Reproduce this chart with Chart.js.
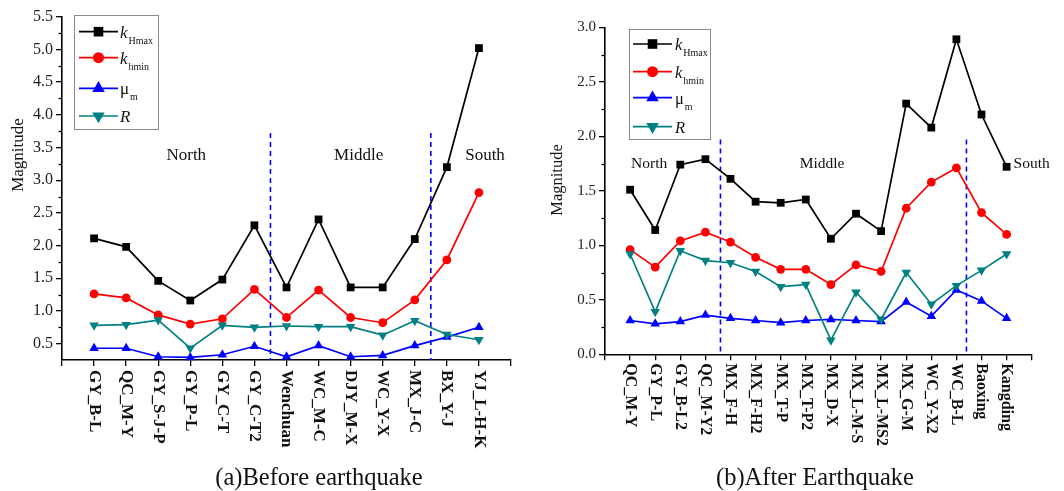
<!DOCTYPE html>
<html>
<head>
<meta charset="utf-8">
<script src="https://cdn.jsdelivr.net/npm/chart.js@4.4.1/dist/chart.umd.min.js"></script>
<style>
    html, body { margin: 0; padding: 0; background: #fff; }
    #wrap { position: relative; width: 1064px; height: 491px; overflow: hidden; }
    canvas { position: absolute; top: 0; }
    .cap {
        position: absolute; top: 463px;
        font-family: 'Liberation Serif', serif; font-size: 24.5px; color: #111;
        white-space: nowrap; transform: translateX(-50%);
    }
</style>
</head>
<body>
<div id="wrap">
    <canvas id="before" width="530" height="491" style="left:0"></canvas>
    <canvas id="after" width="534" height="491" style="left:530px"></canvas>
    <div class="cap" style="left:319px">(a)Before earthquake</div>
    <div class="cap" style="left:815px">(b)After Earthquake</div>
</div>
<script>
// ---- Data: before earthquake ----
const beforeStations = ['GY_B-L', 'QC_M-Y', 'GY_S-J-P', 'GY_P-L', 'GY_C-T', 'GY_C-T2', 'Wenchuan',
    'WC_M-C', 'DJY_M-X', 'WC_Y-X', 'MX_J-C', 'BX_Y-J', 'YJ_L-H-K'];
const beforeKHmax = [2.11, 1.98, 1.46, 1.16, 1.48, 2.31, 1.36, 2.40, 1.36, 1.36, 2.10, 3.20, 5.02];
const beforeKhmin = [1.26, 1.20, 0.94, 0.80, 0.88, 1.33, 0.90, 1.32, 0.90, 0.82, 1.17, 1.78, 2.81];
const beforeMu = [0.43, 0.43, 0.30, 0.29, 0.33, 0.46, 0.30, 0.47, 0.30, 0.32, 0.47, 0.60, 0.75];
const beforeR = [0.78, 0.79, 0.86, 0.43, 0.78, 0.75, 0.77, 0.76, 0.76, 0.63, 0.85, 0.64, 0.56];
const beforeYTicks = [0.5, 1.0, 1.5, 2.0, 2.5, 3.0, 3.5, 4.0, 4.5, 5.0, 5.5];
const beforeDividers = [5.5, 10.5];

// ---- Data: after earthquake ----
const afterStations = ['QC_M-Y', 'GY_P-L', 'GY_B-L2', 'QC_M-Y2', 'MX_F-H', 'MX_F-H2', 'MX_T-P', 'MX_T-P2',
    'MX_D-X', 'MX_L-M-S', 'MX_L-MS2', 'MX_G-M', 'WC_Y-X2', 'WC_B-L', 'Baoxing', 'Kangding'];
const afterKHmax = [1.51, 1.14, 1.74, 1.79, 1.61, 1.40, 1.39, 1.42, 1.06, 1.29, 1.13, 2.30, 2.08, 2.89, 2.20, 1.72];
const afterKhmin = [0.96, 0.80, 1.04, 1.12, 1.03, 0.89, 0.78, 0.78, 0.64, 0.82, 0.76, 1.34, 1.58, 1.71, 1.30, 1.10];
const afterMu = [0.31, 0.28, 0.30, 0.36, 0.33, 0.31, 0.29, 0.31, 0.32, 0.31, 0.30, 0.48, 0.35, 0.59, 0.49, 0.33];
const afterR = [0.92, 0.39, 0.95, 0.86, 0.84, 0.76, 0.62, 0.64, 0.13, 0.57, 0.32, 0.75, 0.46, 0.63, 0.77, 0.92];
const afterYTicks = [0.0, 0.5, 1.0, 1.5, 2.0, 2.5, 3.0];
const afterDividers = [3.6, 13.4];

const regionNames = ['North', 'Middle', 'South'];
const seriesNames = [
    { main: 'k', sub: 'Hmax', italic: true },
    { main: 'k', sub: 'hmin', italic: true },
    { main: 'μ', sub: 'm', italic: false },
    { main: 'R', sub: '', italic: true }
];

// Series look (Origin-like defaults)
const seriesStyles = [
    { color: '#000000', point: 'rect', radius: 5.5, rotation: 0, legend: 'rect', legendSize: 4.8 },
    { color: '#ff0000', point: 'circle', radius: 4.4, rotation: 0, legend: 'circle', legendSize: 5.5 },
    { color: '#0000ff', point: 'triangle', radius: 5.5, rotation: 0, legend: 'up', legendSize: 7.2 },
    { color: '#008080', point: 'triangle', radius: 5.5, rotation: 180, legend: 'down', legendSize: 7.2 }
];
const FONT = "'Liberation Serif', 'DejaVu Serif', serif";

function legendMark(ctx, kind, x, y, r, color) {
    ctx.fillStyle = color;
    ctx.beginPath();
    if (kind === 'rect') {
        ctx.rect(x - r, y - r, 2 * r, 2 * r);
    } else if (kind === 'circle') {
        ctx.arc(x, y, r, 0, Math.PI * 2);
    } else if (kind === 'up') {
        ctx.moveTo(x, y - r);
        ctx.lineTo(x + r * 0.866, y + r * 0.5);
        ctx.lineTo(x - r * 0.866, y + r * 0.5);
    } else {
        ctx.moveTo(x, y + r);
        ctx.lineTo(x + r * 0.866, y - r * 0.5);
        ctx.lineTo(x - r * 0.866, y - r * 0.5);
    }
    ctx.closePath();
    ctx.fill();
}

function makePanel(p) {
    const canvas = document.getElementById(p.id);
    const W = canvas.width, H = canvas.height;
    const n = p.stations.length;

    const datasets = p.values.map((vals, k) => {
        const s = seriesStyles[k];
        return {
            data: vals.map((v, i) => ({ x: i, y: v })),
            borderColor: s.color,
            backgroundColor: s.color,
            borderWidth: 1.7,
            pointStyle: s.point,
            pointRadius: s.radius,
            pointRotation: s.rotation,
            pointBorderWidth: 0,
            pointBackgroundColor: s.color,
            tension: 0,
            clip: false,
            order: 4 - k
        };
    });
    p.dividers.forEach(d => {
        datasets.push({
            data: [{ x: d, y: p.dividerTop }, { x: d, y: p.yMin }],
            borderColor: '#0000ff',
            borderWidth: 1.6,
            borderDash: [5, 4],
            pointRadius: 0,
            order: 10
        });
    });

    const extras = {
        id: 'extras',
        afterDraw(chart) {
            const ctx = chart.ctx;
            const xs = chart.scales.x, ys = chart.scales.y;
            const area = chart.chartArea;
            ctx.save();

            // minor ticks on y
            ctx.strokeStyle = '#000';
            ctx.lineWidth = 1.3;
            for (let k = 0; k < p.yTicks.length - 1; k++) {
                const py = Math.round(ys.getPixelForValue((p.yTicks[k] + p.yTicks[k + 1]) / 2)) + 0.5;
                ctx.beginPath();
                ctx.moveTo(area.left - 3.5, py);
                ctx.lineTo(area.left, py);
                ctx.stroke();
            }

            // rotated station labels
            ctx.fillStyle = '#111';
            ctx.font = `bold ${p.catFont}px ${FONT}`;
            ctx.textAlign = 'left';
            ctx.textBaseline = 'middle';
            p.stations.forEach((name, i) => {
                ctx.save();
                ctx.translate(xs.getPixelForValue(i), area.bottom + p.catOffset);
                ctx.rotate(Math.PI / 2);
                ctx.fillText(name, 0, 0);
                ctx.restore();
            });

            // region labels
            ctx.font = `${p.regionFont}px ${FONT}`;
            ctx.textAlign = 'center';
            regionNames.forEach((name, i) => {
                ctx.fillText(name, xs.getPixelForValue(p.regionX[i]), ys.getPixelForValue(p.regionY));
            });

            // y title
            ctx.save();
            ctx.translate(p.titleX, p.titleY);
            ctx.rotate(-Math.PI / 2);
            ctx.font = `${p.titleFont}px ${FONT}`;
            ctx.fillText('Magnitude', 0, 0);
            ctx.restore();

            // legend
            const L = p.legend;
            ctx.fillStyle = '#fff';
            ctx.fillRect(L.x0, L.y0, L.x1 - L.x0, L.y1 - L.y0);
            ctx.strokeStyle = '#8a8a8a';
            ctx.lineWidth = 1;
            ctx.strokeRect(L.x0 + 0.5, L.y0 + 0.5, L.x1 - L.x0, L.y1 - L.y0);
            seriesNames.forEach((nm, k) => {
                const s = seriesStyles[k];
                const y = L.rows[k];
                ctx.strokeStyle = s.color;
                ctx.lineWidth = 1.7;
                ctx.beginPath();
                ctx.moveTo(L.lineX0, y);
                ctx.lineTo(L.lineX1, y);
                ctx.stroke();
                legendMark(ctx, s.legend, (L.lineX0 + L.lineX1) / 2, y, s.legendSize, s.color);
                ctx.fillStyle = '#111';
                ctx.textAlign = 'left';
                ctx.textBaseline = 'alphabetic';
                ctx.font = `${nm.italic ? 'italic ' : ''}${L.font}px ${FONT}`;
                ctx.fillText(nm.main, L.textX, y + 6);
                const w = ctx.measureText(nm.main).width;
                if (nm.sub) {
                    ctx.font = `${L.subFont}px ${FONT}`;
                    ctx.fillText(nm.sub, L.textX + w + 1, y + 12);
                }
            });
            ctx.restore();
        }
    };

    return new Chart(canvas, {
        type: 'line',
        data: { datasets },
        plugins: [extras],
        options: {
            responsive: false,
            animation: false,
            layout: { padding: { left: 0, top: p.area.top, right: W - p.area.right, bottom: 0 } },
            plugins: { legend: { display: false }, tooltip: { enabled: false } },
            scales: {
                x: {
                    type: 'linear',
                    min: -1,
                    max: n,
                    ticks: { display: false, stepSize: 1 },
                    grid: { drawOnChartArea: false, color: '#000', tickLength: 6, lineWidth: 1.3 },
                    border: { color: '#000', width: 1.6 },
                    afterFit: s => { s.height = H - p.area.bottom; }
                },
                y: {
                    type: 'linear',
                    min: p.yMin,
                    max: p.yMax,
                    afterBuildTicks: s => { s.ticks = p.yTicks.map(v => ({ value: v })); },
                    ticks: {
                        autoSkip: false,
                        padding: 3,
                        color: '#222',
                        font: { family: FONT, size: p.tickFont },
                        callback: v => Number(v).toFixed(1)
                    },
                    grid: { drawOnChartArea: false, color: '#000', tickLength: 6, lineWidth: 1.3 },
                    border: { color: '#000', width: 1.6 },
                    afterFit: s => { s.width = p.area.left; }
                }
            }
        }
    });
}

makePanel({
    id: 'before',
    stations: beforeStations,
    values: [beforeKHmax, beforeKhmin, beforeMu, beforeR],
    yMin: 0.25, yMax: 5.5, yTicks: beforeYTicks,
    dividers: beforeDividers, dividerTop: 3.72,
    regionX: [2.875, 8.25, 12.19], regionY: 3.38,
    area: { left: 62, top: 16.7, right: 511, bottom: 360 },
    tickFont: 16, catFont: 17, catOffset: 10, regionFont: 17,
    titleX: 19, titleY: 155, titleFont: 17,
    legend: { x0: 74, y0: 15, x1: 158, y1: 129, rows: [31.7, 57.7, 88.3, 116],
        lineX0: 79, lineX1: 118, textX: 120, font: 17, subFont: 10 }
});

makePanel({
    id: 'after',
    stations: afterStations,
    values: [afterKHmax, afterKhmin, afterMu, afterR],
    yMin: 0, yMax: 3.0, yTicks: afterYTicks,
    dividers: afterDividers, dividerTop: 1.97,
    regionX: [0.76, 7.65, 16.0], regionY: 1.75,
    area: { left: 75, top: 27.3, right: 501.7, bottom: 354.3 },
    tickFont: 15, catFont: 16, catOffset: 9, regionFont: 15.5,
    titleX: 27.3, titleY: 180, titleFont: 16.5,
    legend: { x0: 99, y0: 29, x1: 180, y1: 139, rows: [44, 71.7, 97.7, 126.7],
        lineX0: 103, lineX1: 142, textX: 145, font: 16.5, subFont: 10 }
});
</script>
</body>
</html>
